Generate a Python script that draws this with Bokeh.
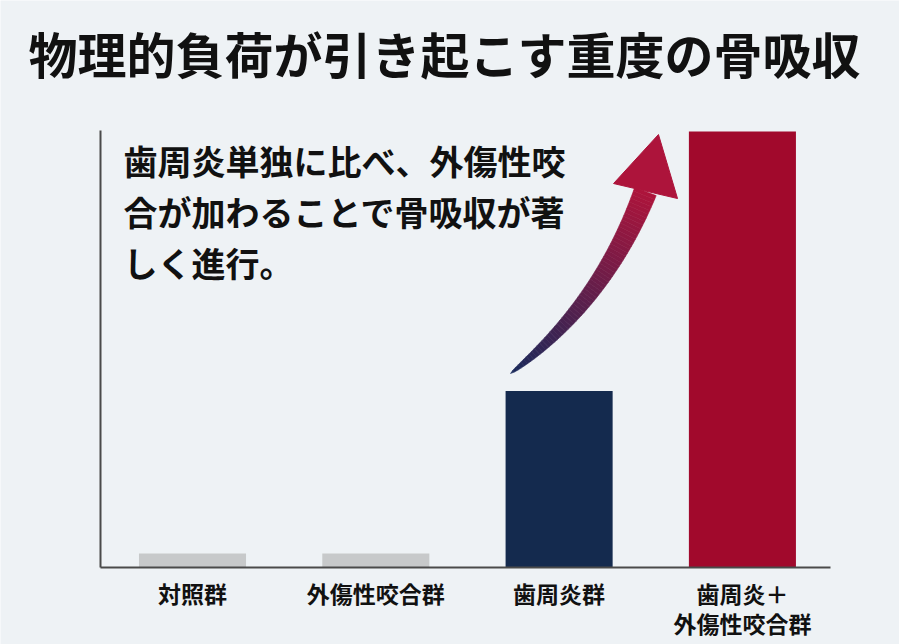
import numpy as np
from bokeh.plotting import figure
from bokeh.models import Range1d, LinearAxis, ColumnDataSource, FixedTicker
from bokeh.core.properties import value
from bokeh.embed import file_html
from bokeh.resources import INLINE

# --- データ ---
title_text = "物理的負荷が引き起こす重度の骨吸収"
note_lines = ["歯周炎単独に比べ、外傷性咬", "合が加わることで骨吸収が著", "しく進行。"]
groups = ["対照群", "外傷性咬合群", "歯周炎群", "歯周炎＋\n外傷性咬合群"]
bone_loss = [3.2, 3.2, 40.5, 100.0]
bar_colors = ["#c7c9ca", "#c7c9ca", "#142a4e", "#a1092c"]

# 上昇矢印（装飾）：二次ベジェの制御点と矢じり（データ単位）
arrow_ctrl_x = [1.735, 2.237, 2.471]
arrow_ctrl_y = [44.5, 60.55, 86.24]
head_x = [2.297, 2.542, 2.646]
head_y = [88.07, 99.31, 84.63]

FONT = "Noto Sans CJK JP"
BG = "#eef2f5"
SX, SY = 183.3, 4.36   # 1データ単位あたりのピクセル
xpos = list(range(len(groups)))

p = figure(width=899, height=644, output_backend="svg", toolbar_location=None, tools="",
           x_range=Range1d(-1.0475, 3.857), y_range=Range1d(-17.66, 130.05),
           x_axis_location=None, y_axis_location=None, min_border=0,
           background_fill_color=BG, border_fill_color=BG, outline_line_color=None)
p.grid.visible = False

# 棒
src = ColumnDataSource(dict(x=xpos, top=bone_loss, color=bar_colors))
p.vbar(x="x", top="top", bottom=0, width=0.584, fill_color="color", line_color=None, source=src)

# 軸線（目盛りなし）
yax = LinearAxis(fixed_location=-0.502, bounds=(0, 100.3), ticker=FixedTicker(ticks=[]),
                 major_label_text_font_size="0px", major_tick_line_color=None,
                 minor_tick_line_color=None, axis_line_color="#4a4a4a", axis_line_width=2)
p.add_layout(yax, "left")
xax = LinearAxis(fixed_location=0, bounds=(-0.502, 3.481), ticker=FixedTicker(ticks=[]),
                 major_label_text_font_size="0px", major_tick_line_color=None,
                 minor_tick_line_color=None, axis_line_color="#4a4a4a", axis_line_width=2)
p.add_layout(xax, "below")

# グラデーション矢印
def mix(c1, c2, t):
    a = [int(c1[i:i + 2], 16) for i in (1, 3, 5)]
    b = [int(c2[i:i + 2], 16) for i in (1, 3, 5)]
    return "#%02x%02x%02x" % tuple(int(round(a[k] + (b[k] - a[k]) * t)) for k in range(3))

n = 60
t = np.linspace(0, 1, n + 1)
P = [np.array([arrow_ctrl_x[k] * SX, arrow_ctrl_y[k] * SY]) for k in range(3)]
pts = np.outer((1 - t) ** 2, P[0]) + np.outer(2 * (1 - t) * t, P[1]) + np.outer(t ** 2, P[2])
tan = np.outer(-2 * (1 - t), P[0]) + np.outer(2 - 4 * t, P[1]) + np.outer(2 * t, P[2])
tan /= np.linalg.norm(tan, axis=1)[:, None]
nrm = np.column_stack([-tan[:, 1], tan[:, 0]])
hw = 11.5 * t ** 0.55
left = pts + nrm * hw[:, None]
right = pts - nrm * hw[:, None]
xs, ys, cols = [], [], []
for k in range(n):
    quad = [left[k], left[k + 1], right[k + 1], right[k]]
    xs.append([q[0] / SX for q in quad])
    ys.append([q[1] / SY for q in quad])
    cols.append(mix("#17295a", "#ad143b", (k + 0.5) / n))
p.patches(xs, ys, fill_color=cols, line_color=cols, line_width=0.6)
p.patch(head_x, head_y, fill_color="#ad143b", line_color="#ad143b")

# テキスト
p.text(x=[-0.895], y=[118.1], text=[title_text], text_baseline="middle", text_align="left",
       text_font=value(FONT), text_font_style="bold", text_font_size="49px", text_color="#111111")
p.text(x=[-0.376] * len(note_lines), y=[93.3 - k * 11.7 for k in range(len(note_lines))],
       text=note_lines, text_baseline="middle", text_align="left",
       text_font=value(FONT), text_font_style="bold", text_font_size="34px", text_color="#111111")
p.text(x=xpos, y=[-1.9] * len(groups), text=groups, text_baseline="top", text_align="center",
       text_font=value(FONT), text_font_style="bold", text_font_size="23px",
       text_line_height=0.88, text_color="#111111")

open("out.html", "w").write(file_html(p, INLINE))
